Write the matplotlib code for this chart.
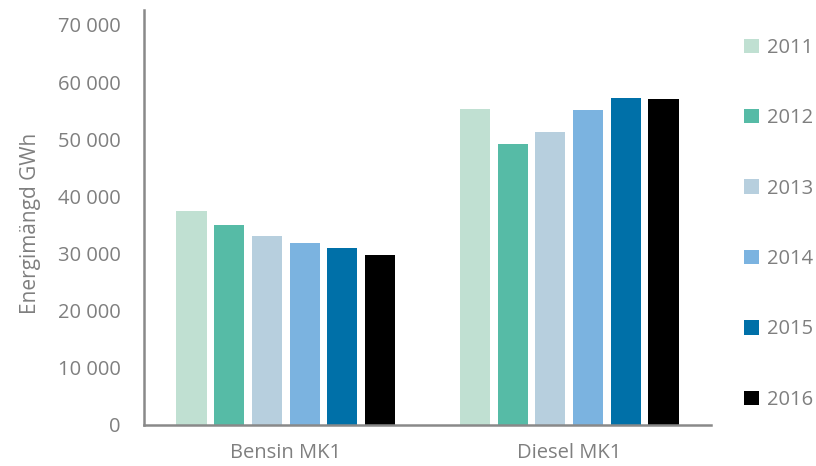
import matplotlib
matplotlib.use("Agg")
import matplotlib.pyplot as plt
import numpy as np

plt.rcParams['font.family'] = ['Open Sans', 'DejaVu Sans']

categories = ["Bensin MK1", "Diesel MK1"]
years = ["2011", "2012", "2013", "2014", "2015", "2016"]
values = {
    "2011": [37500, 55300],
    "2012": [35000, 49200],
    "2013": [33000, 51300],
    "2014": [31900, 55100],
    "2015": [30900, 57200],
    "2016": [29700, 57000],
}
colors = ["#C0E0D2", "#56BBA6", "#B7CFDE", "#7BB3E0", "#0070A8", "#000000"]
yticks = [0, 10000, 20000, 30000, 40000, 50000, 60000, 70000]

text_grey = "#7F7F7F"
axis_grey = "#898989"
fs = 14.5

W, H = 816, 466
fig = plt.figure(figsize=(W / 100, H / 100), dpi=100)
ax = fig.add_axes([144 / W, (H - 425) / H, (711 - 144) / W, (425 - 10) / H])

x = np.arange(len(categories))
stride = 0.133
width = 0.106
offsets = (np.arange(len(years)) - (len(years) - 1) / 2) * stride

handles = []
for i, yr in enumerate(years):
    b = ax.bar(x + offsets[i], values[yr], width=width, color=colors[i], label=yr)
    handles.append(b)

ax.set_xlim(-0.5, len(categories) - 0.5)
ax.set_ylim(0, 72600)
ax.set_yticks(yticks)
ax.set_yticklabels([f"{v:,}".replace(",", " ") for v in yticks])
ax.set_xticks(x)
ax.set_xticklabels(categories)

for s in ["top", "right"]:
    ax.spines[s].set_visible(False)
for s in ["left", "bottom"]:
    ax.spines[s].set_color(axis_grey)
    ax.spines[s].set_linewidth(1.8)

ax.tick_params(axis="both", length=0, colors=text_grey, labelsize=fs)
ax.tick_params(axis="y", pad=17)
ax.tick_params(axis="x", pad=13)
ax.set_ylabel("Energimängd GWh", color=text_grey, fontsize=15)
ax.yaxis.set_label_coords(-(144 - 41) / (711 - 144), 0.485)

leg = fig.legend(handles=handles, labels=years, loc="upper left",
                 bbox_to_anchor=(744 / W, 1 - 38 / H), frameon=False,
                 borderaxespad=0, borderpad=0,
                 fontsize=fs, labelcolor=text_grey, handlelength=0.72,
                 handleheight=0.72, handletextpad=0.4, labelspacing=2.5)

fig.savefig("out.png", dpi=100)
